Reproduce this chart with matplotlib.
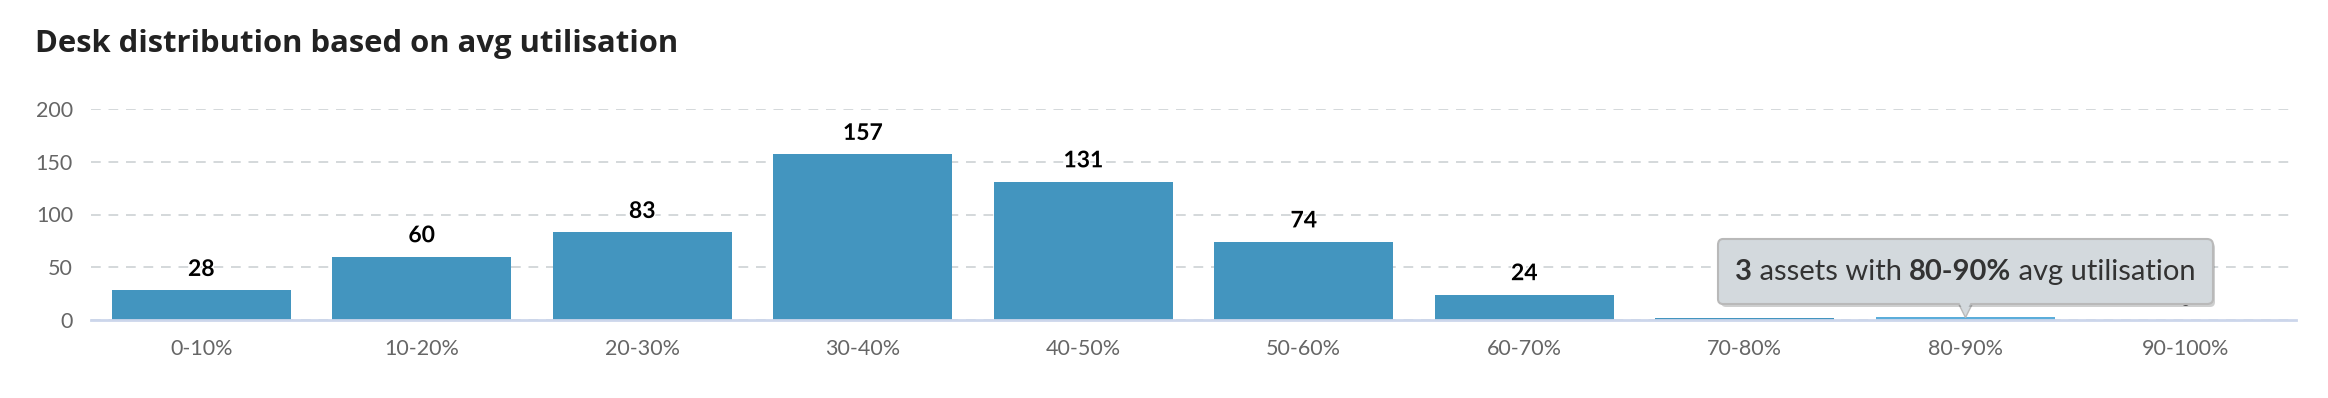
#!/usr/bin/env python3

import numpy as np
import matplotlib
matplotlib.use("Agg")
import matplotlib.pyplot as plt
import matplotlib.patheffects as pe
from matplotlib.offsetbox import TextArea, HPacker, VPacker, DrawingArea, AnnotationBbox
from matplotlib.transforms import offset_copy

matplotlib.rcParams.update({
    "font.family": ["Lato", "DejaVu Sans"],
    "axes.unicode_minus": False,
})

# data
categories = ['0-10%', '10-20%', '20-30%', '30-40%', '40-50%',
              '50-60%', '60-70%', '70-80%', '80-90%', '90-100%']
counts = [28, 60, 83, 157, 131, 74, 24, 2, 3, 0]
yticks = [0, 50, 100, 150, 200]
hover_idx = 8

bar_color = '#4395bf'
hover_color = '#5badda'
grid_color = '#d4d8db'
axis_color = '#ccd6eb'
label_color = '#666666'
tip_face = '#d3d9dd'
tip_edge = '#b9b9b9'

fig = plt.figure(figsize=(23.28, 3.98), dpi=100)
ax = fig.add_axes([91/2328, 1 - 320/398, (2296 - 91)/2328, 211/398])

x = np.arange(len(categories))
colors = [hover_color if i == hover_idx else bar_color for i in x]
bars = ax.bar(x, counts, width=0.81, color=colors, zorder=2)

ax.set_xlim(-0.5, len(categories) - 0.5)
ax.set_ylim(0, 200)
ax.set_yticks(yticks)
ax.set_xticks(x)
ax.set_xticklabels(categories)

for s in ['top', 'right', 'left']:
    ax.spines[s].set_visible(False)
ax.spines['bottom'].set_color(axis_color)
ax.spines['bottom'].set_linewidth(2)
ax.spines['bottom'].set_zorder(3)

ax.yaxis.grid(True, linestyle=(0, (5, 4)), color=grid_color, linewidth=1.4, zorder=0)
ax.tick_params(axis='both', length=0, labelsize=15.5, labelcolor=label_color)
ax.tick_params(axis='y', pad=13)
ax.tick_params(axis='x', pad=14)

# value labels above bars
for i, v in enumerate(counts):
    ax.annotate(str(v), xy=(i, v), xytext=(0, 21), textcoords='offset pixels',
                ha='center', va='center', fontsize=16.5, fontweight='bold',
                color='black', zorder=4,
                path_effects=[pe.withStroke(linewidth=2, foreground='white')])

fig.text(35/2328, 1 - 44/398, 'Desk distribution based on avg utilisation',
         fontsize=22.3, fontweight='bold', color='#222222', va='center',
         family=['Open Sans', 'DejaVu Sans'])

# hover tooltip
tprops = dict(fontsize=21, color='#333333')
parts = [
    TextArea('3', textprops=dict(fontweight='bold', **tprops)),
    TextArea(' assets with ', textprops=tprops),
    TextArea('80-90%', textprops=dict(fontweight='bold', **tprops)),
    TextArea(' avg utilisation', textprops=tprops),
]
line = HPacker(children=parts, align='baseline', pad=0, sep=0)
box = VPacker(children=[DrawingArea(0, 2), line, DrawingArea(0, 2)],
              align='center', pad=0, sep=0)
ab = AnnotationBbox(box, (hover_idx, counts[hover_idx]), xybox=(0, 45),
                    xycoords='data', boxcoords='offset pixels',
                    frameon=True, fontsize=20,
                    bboxprops=dict(boxstyle='round,pad=0.6,rounding_size=0.2',
                                   fc=tip_face, ec=tip_edge, lw=1.5),
                    zorder=6)
ab.patch.set_path_effects([pe.SimplePatchShadow(offset=(2, -2), alpha=0.25), pe.Normal()])
ax.add_artist(ab)
tip = offset_copy(ax.transData, fig=fig, x=0, y=7, units='dots')
ax.plot([hover_idx], [counts[hover_idx]], marker='v', markersize=10,
        color=tip_face, markeredgecolor=tip_edge, markeredgewidth=1,
        transform=tip, zorder=5.5, clip_on=False)
ax.plot([hover_idx], [counts[hover_idx]], marker='v', markersize=8,
        color=tip_face, markeredgewidth=0,
        transform=offset_copy(ax.transData, fig=fig, x=0, y=9, units='dots'),
        zorder=7, clip_on=False)

fig.savefig('out.png', dpi=100)
